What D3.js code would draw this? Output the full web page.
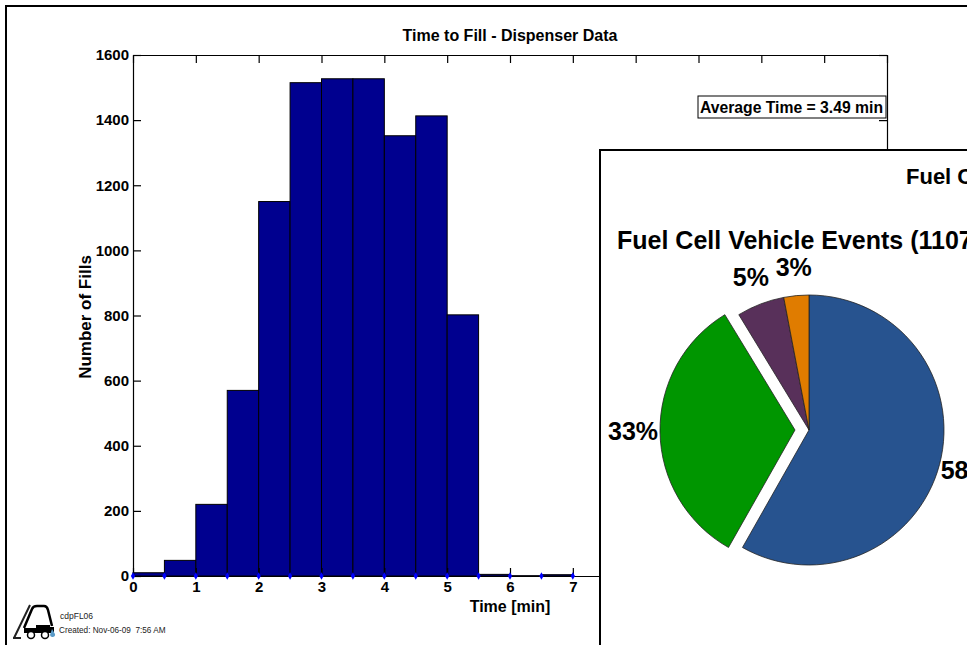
<!DOCTYPE html>
<html lang="en">
  <head>
    <meta charset="utf-8" />
    <title>Time to Fill</title>
    <script type="text/javascript" src="https://d3js.org/d3.v7.min.js"></script>
    <style>
      html, body { margin: 0; padding: 0; background: #fff; overflow: hidden; }
      text { font-family: "Liberation Sans", Arial, sans-serif; fill: #000; }
      .bold { font-weight: bold; }
    </style>
  </head>
  <body>
    <div id="chart"></div>

    <script type="text/javascript">
      /********************************
       * data
       ********************************/

      // left edge of each half minute bin
      const binStarts = [0, 0.5, 1, 1.5, 2, 2.5, 3, 3.5, 4, 4.5, 5, 5.5, 6, 6.5, 7, 7.5, 8, 8.5, 9, 9.5, 10, 10.5, 11, 11.5];
      const fillCounts = [10, 48, 220, 570, 1150, 1515, 1527, 1527, 1352, 1413, 802, 5, 1, 4, 0, 0, 0, 0, 0, 0, 0, 0, 0, 0];
      const binWidth = 0.5;

      const xTicks = [0, 1, 2, 3, 4, 5, 6, 7, 8, 9, 10, 11, 12];
      const yTicks = [0, 200, 400, 600, 800, 1000, 1200, 1400, 1600];

      const pieShares = [58.2, 33.1, 5.7, 3.0];
      const pieLabels = ["58%", "33%", "5%", "3%"];
      const pieColors = ["#27538f", "#009600", "#58305a", "#e07c00"];
      const pieExplode = [0, 14, 0, 0];

      /***************************
       * create svg
       **************************/

      const width = 967;
      const height = 645;

      const svg = d3
        .select("div#chart")
        .append("svg")
        .attr("width", width)
        .attr("height", height)
        .style("display", "block");

      // outer page frame
      svg.append("path")
        .attr("d", "M6,645V6H967")
        .attr("fill", "none")
        .attr("stroke", "#000")
        .attr("stroke-width", 2);

      /****************************
       * histogram
       ****************************/

      const x = d3.scaleLinear().domain([0, 12]).range([133, 887]);
      const y = d3.scaleLinear().domain([0, 1600]).range([576, 55]);

      svg.append("g")
        .selectAll("rect")
        .data(binStarts.filter((d, i) => fillCounts[i] > 0))
        .enter()
        .append("rect")
        .attr("x", (d) => x(d))
        .attr("width", (d) => x(d + binWidth) - x(d))
        .attr("y", (d) => y(fillCounts[binStarts.indexOf(d)]))
        .attr("height", (d) => y(0) - y(fillCounts[binStarts.indexOf(d)]))
        .attr("fill", "#00008f")
        .attr("stroke", "#000")
        .attr("stroke-width", 1);

      function styleAxis(g) {
        g.selectAll("path, line").attr("stroke", "#000").attr("stroke-width", 1.2);
        g.selectAll("text")
          .attr("class", "bold")
          .style("font-size", "15px")
          .style("font-family", '"Liberation Sans", Arial, sans-serif')
          .style("fill", "#000");
      }

      svg.append("g")
        .attr("transform", "translate(0,576)")
        .call(d3.axisBottom(x).tickValues(xTicks).tickFormat(d3.format("d")).tickSize(-8).tickSizeOuter(0).tickPadding(5))
        .call(styleAxis);

      svg.append("g")
        .attr("transform", "translate(133,0)")
        .call(d3.axisLeft(y).tickValues(yTicks).tickFormat(d3.format("d")).tickSize(-8).tickSizeOuter(0).tickPadding(4))
        .call(styleAxis);

      svg.append("g")
        .attr("transform", "translate(0,55)")
        .call(d3.axisTop(x).tickValues(xTicks).tickFormat("").tickSize(-8).tickSizeOuter(0))
        .call(styleAxis);

      svg.append("g")
        .attr("transform", "translate(887,0)")
        .call(d3.axisRight(y).tickValues(yTicks).tickFormat("").tickSize(-8).tickSizeOuter(0))
        .call(styleAxis);

      // small blue markers along the baseline
      svg.append("g")
        .selectAll("path")
        .data(binStarts)
        .enter()
        .append("path")
        .attr("d", d3.symbol(d3.symbolDiamond, 16))
        .attr("transform", (d) => `translate(${x(d)},${y(0)})`)
        .attr("fill", "#0000ff");

      svg.append("text")
        .attr("class", "bold")
        .attr("x", 510)
        .attr("y", 41)
        .attr("text-anchor", "middle")
        .style("font-size", "16px")
        .text("Time to Fill - Dispenser Data");

      svg.append("text")
        .attr("class", "bold")
        .attr("x", 510)
        .attr("y", 612)
        .attr("text-anchor", "middle")
        .style("font-size", "16px")
        .text("Time [min]");

      svg.append("text")
        .attr("class", "bold")
        .attr("transform", "translate(91,317) rotate(-90)")
        .attr("text-anchor", "middle")
        .style("font-size", "17px")
        .text("Number of Fills");

      svg.append("rect")
        .attr("x", 698)
        .attr("y", 96)
        .attr("width", 188)
        .attr("height", 22)
        .attr("fill", "#fff")
        .attr("stroke", "#000");

      svg.append("text")
        .attr("class", "bold")
        .attr("x", 700)
        .attr("y", 113)
        .style("font-size", "16px")
        .attr("textLength", 183)
        .attr("lengthAdjust", "spacingAndGlyphs")
        .text("Average Time = 3.49 min");

      /****************************
       * forklift logo and footer
       ****************************/

      const logo = svg.append("g");
      logo.append("path")
        .attr("d", "M14,638L30,605M13,638H21")
        .attr("fill", "none")
        .attr("stroke", "#222")
        .attr("stroke-width", 2);
      logo.append("path")
        .attr("d", "M24,628L32,609Q33,606 37,606H44Q47,606 48,610L52,626")
        .attr("fill", "none")
        .attr("stroke", "#000")
        .attr("stroke-width", 2.5);
      logo.append("path").attr("d", "M24,634V628H36V625H50V627H54V633H24Z").attr("fill", "#000");
      logo.append("path").attr("d", "M52,629L55,634A2.5,2.5 0 0 1 50,635Z").attr("fill", "#5b9bc8");
      logo.selectAll("circle")
        .data([31, 45])
        .enter()
        .append("circle")
        .attr("cx", (d) => d)
        .attr("cy", 635)
        .attr("r", 3.5)
        .attr("fill", "#fff")
        .attr("stroke", "#000")
        .attr("stroke-width", 1.5);

      svg.append("text")
        .attr("x", 60)
        .attr("y", 619)
        .style("font-size", "8.5px")
        .style("fill", "#222")
        .text("cdpFL06");

      svg.append("text")
        .attr("x", 59)
        .attr("y", 633)
        .style("font-size", "8.2px")
        .style("fill", "#222")
        .style("white-space", "pre")
        .text("Created: Nov-06-09  7:56 AM");

      /****************************
       * inset pie, runs off the page
       ****************************/

      svg.append("rect")
        .attr("x", 600)
        .attr("y", 150)
        .attr("width", 400)
        .attr("height", 520)
        .attr("fill", "#fff")
        .attr("stroke", "#000")
        .attr("stroke-width", 2);

      svg.append("text")
        .attr("class", "bold")
        .attr("x", 906)
        .attr("y", 184)
        .style("font-size", "22px")
        .text("Fuel Cell");

      svg.append("text")
        .attr("class", "bold")
        .attr("x", 617)
        .attr("y", 249)
        .style("font-size", "25px")
        .text("Fuel Cell Vehicle Events (1107)");

      const pie = d3.pie().sort(null).startAngle(0).endAngle(2 * Math.PI);
      const arcs = pie(pieShares);
      const arc = d3.arc().innerRadius(0).outerRadius(135);
      const labelArc = d3.arc().innerRadius(162).outerRadius(162);

      const pieG = svg.append("g").attr("transform", "translate(809,430)");

      pieG.selectAll("path")
        .data(arcs)
        .enter()
        .append("path")
        .attr("d", arc)
        .attr("transform", (d, i) => `translate(${-pieExplode[i]},0)`)
        .attr("fill", (d, i) => pieColors[i])
        .attr("stroke", "#222")
        .attr("stroke-width", 0.8);

      pieG.selectAll("text")
        .data(arcs)
        .enter()
        .append("text")
        .attr("class", "bold")
        .attr("transform", (d, i) => {
          const c = labelArc.centroid(d);
          return `translate(${c[0] - pieExplode[i]},${c[1]})`;
        })
        .attr("text-anchor", "middle")
        .attr("dy", "0.3em")
        .style("font-size", "25px")
        .text((d, i) => pieLabels[i]);
    </script>
  </body>
</html>
